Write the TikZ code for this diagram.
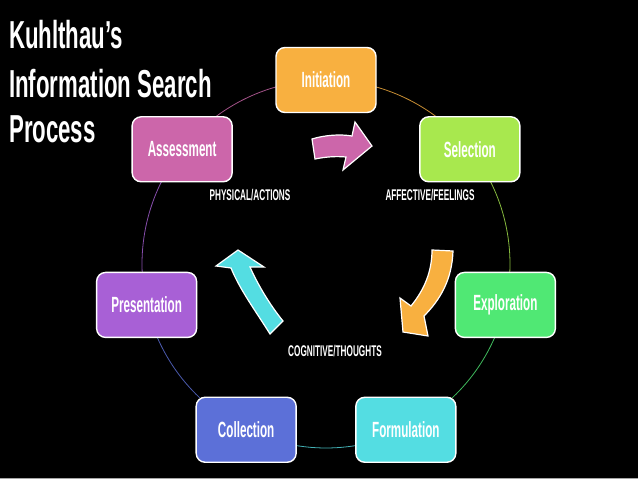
\documentclass[tikz,border=0pt]{standalone}
\usepackage{fontspec}
\usetikzlibrary{calc}
\newfontfamily\condfont[FakeStretch=0.57]{Liberation Sans}
\newfontfamily\stagefont[FakeStretch=0.53]{Liberation Sans}
\newfontfamily\tagfont[FakeStretch=0.53]{Liberation Sans}
\definecolor{cinit}{HTML}{F8B040}
\definecolor{csel}{HTML}{A8E84E}
\definecolor{cexp}{HTML}{50E874}
\definecolor{cform}{HTML}{54DDE2}
\definecolor{ccoll}{HTML}{5C70D8}
\definecolor{cpres}{HTML}{A860D6}
\definecolor{cass}{HTML}{CC66AA}
\tikzset{
  stage/.style={draw=white, line width=1.4pt, rounded corners=9pt,
    minimum width=100pt, minimum height=65pt, inner sep=0pt,
    text=white, font=\stagefont\bfseries\fontsize{22}{22}\selectfont},
  ring/.style={line width=0.8pt},
  blockarrow/.style={draw=white, line width=1.2pt, line join=miter},
  tag/.style={text=white, inner sep=0pt, font=\tagfont\bfseries\fontsize{15.5}{15.5}\selectfont},
  titleline/.style={text=white, inner sep=0pt, anchor=base west,
    font=\condfont\bfseries\fontsize{39}{39}\selectfont}
}
\begin{document}
\begin{tikzpicture}[x=1pt,y=-1pt]
\fill[black] (0,0) rectangle (638,479);
\useasboundingbox (0,0) rectangle (638,479);
\fill[gray!70] (0,477.5) rectangle (638,479);
% ring coordinates
\coordinate (ctr) at (326,264);
\foreach \k in {0,...,6}{
  \coordinate (p\k) at ($(ctr)+({-90+51.4286*\k}:184)$);
}
% ring arcs
\draw[ring, cinit!80!black] (p0) arc[start angle=-90, delta angle=51.4286, radius=184];
\draw[ring, csel!80!black] (p1) arc[start angle=-38.5714, delta angle=51.4286, radius=184];
\draw[ring, cexp!80!black] (p2) arc[start angle=12.8571, delta angle=51.4286, radius=184];
\draw[ring, cform!80!black] (p3) arc[start angle=64.2857, delta angle=51.4286, radius=184];
\draw[ring, ccoll!80!black] (p4) arc[start angle=115.7143, delta angle=51.4286, radius=184];
\draw[ring, cpres!80!black] (p5) arc[start angle=167.1429, delta angle=51.4286, radius=184];
\draw[ring, cass!80!black] (p6) arc[start angle=218.5714, delta angle=51.4286, radius=184];
% stages
\node[stage, fill=cinit] (init) at (p0) {Initiation};
\node[stage, fill=csel]  (sel)  at (p1) {Selection};
\node[stage, fill=cexp]  (expl) at (p2) {Exploration};
\node[stage, fill=cform] (form) at (p3) {Formulation};
\node[stage, fill=ccoll] (coll) at (p4) {Collection};
\node[stage, fill=cpres] (pres) at (p5) {Presentation};
\node[stage, fill=cass]  (ass)  at (p6) {Assessment};
% block arrows
\filldraw[blockarrow, fill=cass] (312,139) .. controls (325,135) and (340,134) .. (352,136)
  -- (355,122) -- (372,146) -- (343,170) -- (346,157)
  .. controls (335,156) and (325,157) .. (315,159) -- cycle;
\filldraw[blockarrow, fill=cinit] (432,250) -- (453,251)
  .. controls (452,280) and (440,300) .. (424,316)
  -- (428,336) -- (403,332) -- (400,298) -- (411,306)
  .. controls (424,290) and (432,272) .. (432,250) -- cycle;
\filldraw[blockarrow, fill=cform] (270,334) .. controls (255,310) and (240,290) .. (231,268)
  -- (216,266) -- (238,250) -- (264,267) -- (250,267)
  .. controls (258,285) and (270,305) .. (283,321) -- cycle;
% tags
\node[tag] (phys) at (250,195) {PHYSICAL/ACTIONS};
\node[tag] (aff)  at (430,195) {AFFECTIVE/FEELINGS};
\node[tag] (cog)  at (335,351) {COGNITIVE/THOUGHTS};
% title
\node[titleline] (t1) at (9,48) {Kuhlthau’s};
\node[titleline] (t2) at (9,97) {Information Search};
\node[titleline] (t3) at (9,142) {Process};
\end{tikzpicture}
\end{document}
